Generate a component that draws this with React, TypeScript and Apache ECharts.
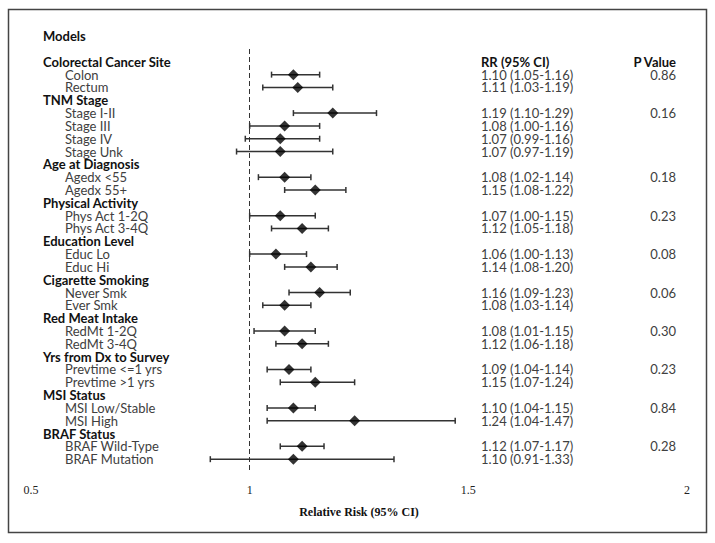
import React, { useEffect, useRef } from "react";
import * as echarts from "echarts";

const groups = [
  "Colorectal Cancer Site",
  "TNM Stage",
  "Age at Diagnosis",
  "Physical Activity",
  "Education Level",
  "Cigarette Smoking",
  "Red Meat Intake",
  "Yrs from Dx to Survey",
  "MSI Status",
  "BRAF Status",
];
const groupSizes = [2, 4, 2, 2, 2, 2, 2, 2, 2, 2];
const pValues = ["0.86", "0.16", "0.18", "0.23", "0.08", "0.06", "0.30", "0.23", "0.84", "0.28"];

const subgroups = [
  "Colon", "Rectum",
  "Stage I-II", "Stage III", "Stage IV", "Stage Unk",
  "Agedx <55", "Agedx 55+",
  "Phys Act 1-2Q", "Phys Act 3-4Q",
  "Educ Lo", "Educ Hi",
  "Never Smk", "Ever Smk",
  "RedMt 1-2Q", "RedMt 3-4Q",
  "Prevtime <=1 yrs", "Prevtime >1 yrs",
  "MSI Low/Stable", "MSI High",
  "BRAF Wild-Type", "BRAF Mutation",
];
const rr = [1.10, 1.11, 1.19, 1.08, 1.07, 1.07, 1.08, 1.15, 1.07, 1.12, 1.06, 1.14, 1.16, 1.08, 1.08, 1.12, 1.09, 1.15, 1.10, 1.24, 1.12, 1.10];
const lower = [1.05, 1.03, 1.10, 1.00, 0.99, 0.97, 1.02, 1.08, 1.00, 1.05, 1.00, 1.08, 1.09, 1.03, 1.01, 1.06, 1.04, 1.07, 1.04, 1.04, 1.07, 0.91];
const upper = [1.16, 1.19, 1.29, 1.16, 1.16, 1.19, 1.14, 1.22, 1.15, 1.18, 1.13, 1.20, 1.23, 1.14, 1.15, 1.18, 1.14, 1.24, 1.15, 1.47, 1.17, 1.33];

const xTicks = [0.5, 1, 1.5, 2];

type Row = { kind: "h" | "i"; label: string; item?: number; p?: string };

function buildRows(): Row[] {
  const rows: Row[] = [];
  let k = 0;
  groups.forEach((g, gi) => {
    rows.push({ kind: "h", label: g });
    for (let j = 0; j < groupSizes[gi]; j++) {
      rows.push({ kind: "i", label: subgroups[k], item: k, p: j === 0 ? pValues[gi] : "" });
      k++;
    }
  });
  return rows;
}

const LABEL_FONT = "Lato, 'Noto Sans', sans-serif";
const SERIF = "'Liberation Serif', 'DejaVu Serif', serif";
const FS = 13;
const LH = 12;

export default function App() {
  const ref = useRef<HTMLDivElement>(null);
  useEffect(() => {
    const chart = echarts.init(ref.current!, null, { renderer: "svg" });
    const rows = buildRows();
    const cats = ["c0", ...rows.map((_, i) => "c" + (i + 1)), "c" + (rows.length + 1)];
    const itemRow: number[] = [];
    rows.forEach((r, i) => {
      if (r.kind === "i") itemRow[r.item as number] = i + 1;
    });
    const fmtCI = (k: number) =>
      `${rr[k].toFixed(2)} (${lower[k].toFixed(2)}-${upper[k].toFixed(2)})`;

    const base = { fontFamily: LABEL_FONT, fontSize: FS, lineHeight: LH };
    const option: any = {
      animation: false,
      backgroundColor: "#fff",
      title: {
        text: "Models",
        left: 38,
        top: 24,
        textStyle: { fontFamily: LABEL_FONT, fontWeight: "bold", fontSize: FS, color: "#111" },
      },
      graphic: [
        {
          type: "rect",
          shape: { x: 8.5, y: 9.5, width: 698, height: 523 },
          style: { fill: "none", stroke: "#444", lineWidth: 1.5 },
          silent: true,
        },
      ],
      grid: { left: 31, right: 28, top: 49, bottom: 71, containLabel: false },
      xAxis: {
        type: "value",
        min: xTicks[0],
        max: xTicks[xTicks.length - 1],
        interval: 0.5,
        name: "Relative Risk (95% CI)",
        nameLocation: "middle",
        nameGap: 34,
        nameTextStyle: { fontFamily: SERIF, fontWeight: "bold", fontSize: 12, color: "#111" },
        axisLine: { lineStyle: { color: "#888", width: 1.5 } },
        axisTick: { inside: true, length: 4, lineStyle: { color: "#888" } },
        axisLabel: {
          fontFamily: SERIF,
          fontSize: 12,
          color: "#222",
          margin: 12,
          formatter: (v: number) => String(v),
        },
        splitLine: { show: false },
      },
      yAxis: [
        {
          type: "category",
          data: cats,
          inverse: true,
          boundaryGap: false,
          axisLine: { show: false },
          axisTick: { show: false },
          splitLine: { show: false },
          axisLabel: {
            inside: true,
            margin: 12,
            interval: 0,
            lineHeight: LH,
            formatter: (_v: string, idx: number) => {
              const r = rows[idx - 1];
              if (!r) return "";
              return r.kind === "h" ? `{h|${r.label}}` : `{i|${r.label}}`;
            },
            rich: {
              h: { ...base, fontWeight: "bold", color: "#111" },
              i: { ...base, color: "#404040", padding: [0, 0, 0, 22] },
            },
          },
        },
        {
          type: "category",
          data: cats,
          inverse: true,
          boundaryGap: false,
          position: "right",
          axisLine: { show: false },
          axisTick: { show: false },
          splitLine: { show: false },
          axisLabel: {
            inside: true,
            margin: 11,
            interval: 0,
            lineHeight: LH,
            formatter: (_v: string, idx: number) => {
              if (idx === 1) return `{rh|RR (95% CI)}{ph|P Value}`;
              const r = rows[idx - 1];
              if (!r || r.kind === "h") return "";
              return `{r|${fmtCI(r.item as number)}}{p|${r.p ? r.p : " "}}`;
            },
            rich: {
              rh: { ...base, fontWeight: "bold", color: "#111", width: 150, align: "left" },
              ph: { ...base, fontWeight: "bold", color: "#111", width: 45, align: "right" },
              r: { ...base, color: "#404040", width: 150, align: "left" },
              p: { ...base, color: "#404040", width: 45, align: "right" },
            },
          },
        },
      ],
      series: [
        {
          type: "custom",
          name: "CI",
          yAxisIndex: 0,
          encode: { x: [0, 1], y: 2 },
          data: rr.map((_, k) => [lower[k], upper[k], itemRow[k]]),
          renderItem: (_params: any, api: any) => {
            const y = api.value(2);
            const p1 = api.coord([api.value(0), y]);
            const p2 = api.coord([api.value(1), y]);
            const c = 3;
            const st = { stroke: "#333", lineWidth: 1.5 };
            return {
              type: "group",
              children: [
                { type: "line", shape: { x1: p1[0], y1: p1[1], x2: p2[0], y2: p2[1] }, style: st },
                { type: "line", shape: { x1: p1[0], y1: p1[1] - c, x2: p1[0], y2: p1[1] + c }, style: st },
                { type: "line", shape: { x1: p2[0], y1: p2[1] - c, x2: p2[0], y2: p2[1] + c }, style: st },
              ],
            };
          },
          z: 2,
        },
        {
          type: "scatter",
          name: "RR",
          yAxisIndex: 0,
          symbol: "diamond",
          symbolSize: [11, 11],
          itemStyle: { color: "#000" },
          data: rr.map((v, k) => [v, itemRow[k]]),
          z: 3,
          markLine: {
            silent: true,
            symbol: ["none", "none"],
            label: { show: false },
            lineStyle: { type: [5, 3], color: "#333", width: 1 },
            data: [{ xAxis: 1 }],
          },
        },
      ],
    };
    chart.setOption(option);
    return () => chart.dispose();
  }, []);
  return (
    <div
      ref={ref}
      style={{ position: "fixed", left: 0, top: 0, width: 715, height: 543, background: "#fff" }}
    />
  );
}
